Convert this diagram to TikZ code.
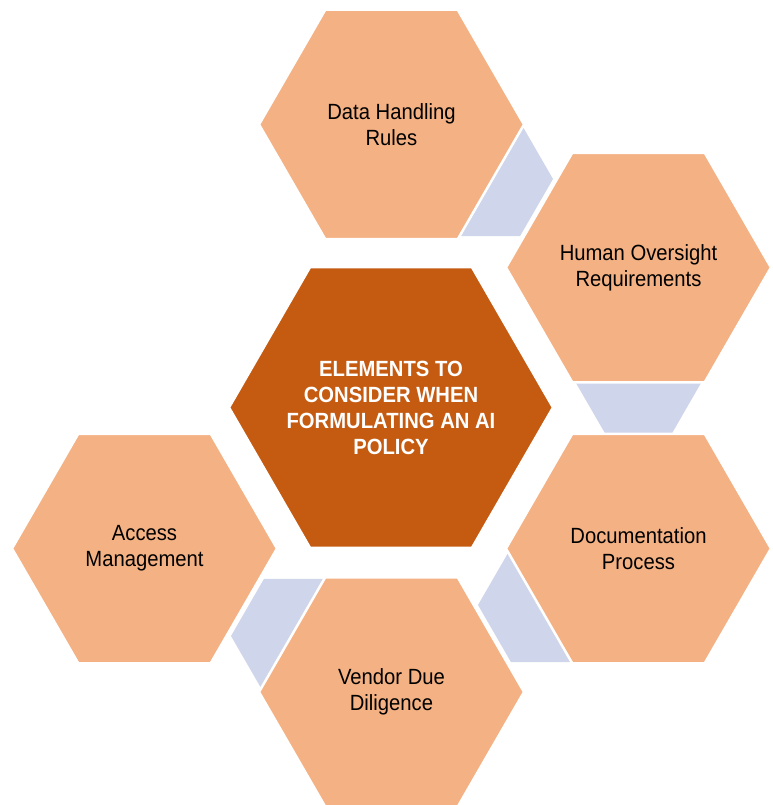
\documentclass[tikz,border=0pt]{standalone}
\usepackage{fontspec}
\setmainfont[FakeStretch=0.92]{Liberation Sans}
\usetikzlibrary{shapes.geometric}

\definecolor{hexpeach}{HTML}{F4B183}
\definecolor{hexrust}{HTML}{C55A11}
\definecolor{hexlink}{HTML}{CFD5EA}

\tikzset{
  cell/.style={regular polygon, regular polygon sides=6, inner sep=0pt, minimum size=265pt,
    fill=hexpeach, draw=white, line width=2.5pt, align=center, font=\fontsize{22}{26}\selectfont},
  hub/.style={cell, minimum size=324pt, fill=hexrust},
  hubtext/.style={align=center, text=white, font=\fontsize{22}{26}\selectfont\bfseries},
  joint/.style={regular polygon, regular polygon sides=6, inner sep=0pt, minimum size=132pt, fill=hexlink},
}

\begin{document}
\begin{tikzpicture}[x=1pt, y=-1pt]
  \useasboundingbox (0,0) rectangle (772,805);
  % small joints first, so the cells cover them
  \node (joint1) [joint] at (487,179) {};
  \node (joint2) [joint] at (638.5,377) {};
  \node (joint3) [joint] at (544,605) {};
  \node (joint4) [joint] at (297,636) {};
  % outer cells
  \node (rules) [cell] at (391.5,124.5) {Data Handling\\Rules};
  \node (oversight) [cell] at (638.5,267.5) {Human Oversight\\Requirements};
  \node (docs) [cell] at (638.5,548.5) {Documentation\\Process};
  \node (vendor) [cell] at (391.5,692) {Vendor Due\\Diligence};
  \node (access) [cell] at (144.5,548.5) {Access\\Management};
  % centre, text set apart so it does not widen the shape
  \node (policy) [hub] at (391,407.5) {};
  \node (policytext) [hubtext] at (policy.center) {ELEMENTS TO\\CONSIDER WHEN\\FORMULATING AN AI\\POLICY};
\end{tikzpicture}
\end{document}
